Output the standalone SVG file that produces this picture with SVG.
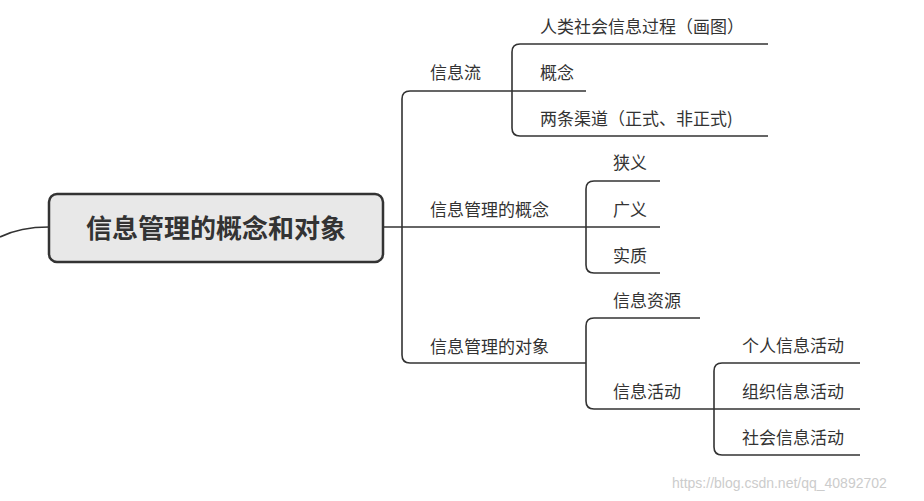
<svg xmlns="http://www.w3.org/2000/svg" width="924" height="501" viewBox="0 0 924 501">
<style>
.l{fill:none;stroke:#333;stroke-width:1.6}
.t{font-family:"Noto Sans CJK SC",sans-serif;font-size:17px;fill:#333}
</style>
<rect width="924" height="501" fill="#fff"/>
<g id="connectors">
<path class="l" d="M0,237 Q20,227 49,227"/>
<path class="l" d="M383,227 H586"/>
<path class="l" d="M410,91 H586 M402,99 Q402,91 410,91 M402,99 V355 Q402,363 410,363 H586"/>
<path class="l" d="M520,44 H768 M512,52 Q512,44 520,44 M512,52 V128 Q512,136 520,136 H768"/>
<path class="l" d="M594,181 H660 M586,189 Q586,181 594,181 M586,189 V265 Q586,273 594,273 H660 M586,227 H660"/>
<path class="l" d="M594,318 H700 M586,326 Q586,318 594,318 M586,326 V401 Q586,409 594,409 H714"/>
<path class="l" d="M722,363 H860 M714,371 Q714,363 722,363 M714,371 V447 Q714,455 722,455 H860 M714,409 H860"/>
</g>
<g id="root">
<rect x="49" y="194" width="334" height="68" rx="8" fill="#e8e8e8" stroke="#333" stroke-width="2.5"/>
<text x="216" y="238" text-anchor="middle" font-family="Noto Sans CJK SC,sans-serif" font-size="26" font-weight="bold" fill="#333">信息管理的概念和对象</text>
</g>
<g id="n1"><text class="t" x="430" y="79">信息流</text></g>
<g id="n11"><text class="t" x="540" y="33">人类社会信息过程（画图）</text></g>
<g id="n12"><text class="t" x="540" y="79">概念</text></g>
<g id="n13"><text class="t" x="540" y="125">两条渠道（正式、非正式)</text></g>
<g id="n2"><text class="t" x="430" y="216">信息管理的概念</text></g>
<g id="n21"><text class="t" x="613" y="169">狭义</text></g>
<g id="n22"><text class="t" x="613" y="216">广义</text></g>
<g id="n23"><text class="t" x="613" y="262">实质</text></g>
<g id="n3"><text class="t" x="430" y="353">信息管理的对象</text></g>
<g id="n31"><text class="t" x="613" y="307">信息资源</text></g>
<g id="n32"><text class="t" x="613" y="398">信息活动</text></g>
<g id="n321"><text class="t" x="742" y="352">个人信息活动</text></g>
<g id="n322"><text class="t" x="742" y="398">组织信息活动</text></g>
<g id="n323"><text class="t" x="742" y="444">社会信息活动</text></g>
<text x="672" y="488" font-family="Liberation Sans,sans-serif" font-size="14" fill="#ccc">https://blog.csdn.net/qq_40892702</text>
</svg>
